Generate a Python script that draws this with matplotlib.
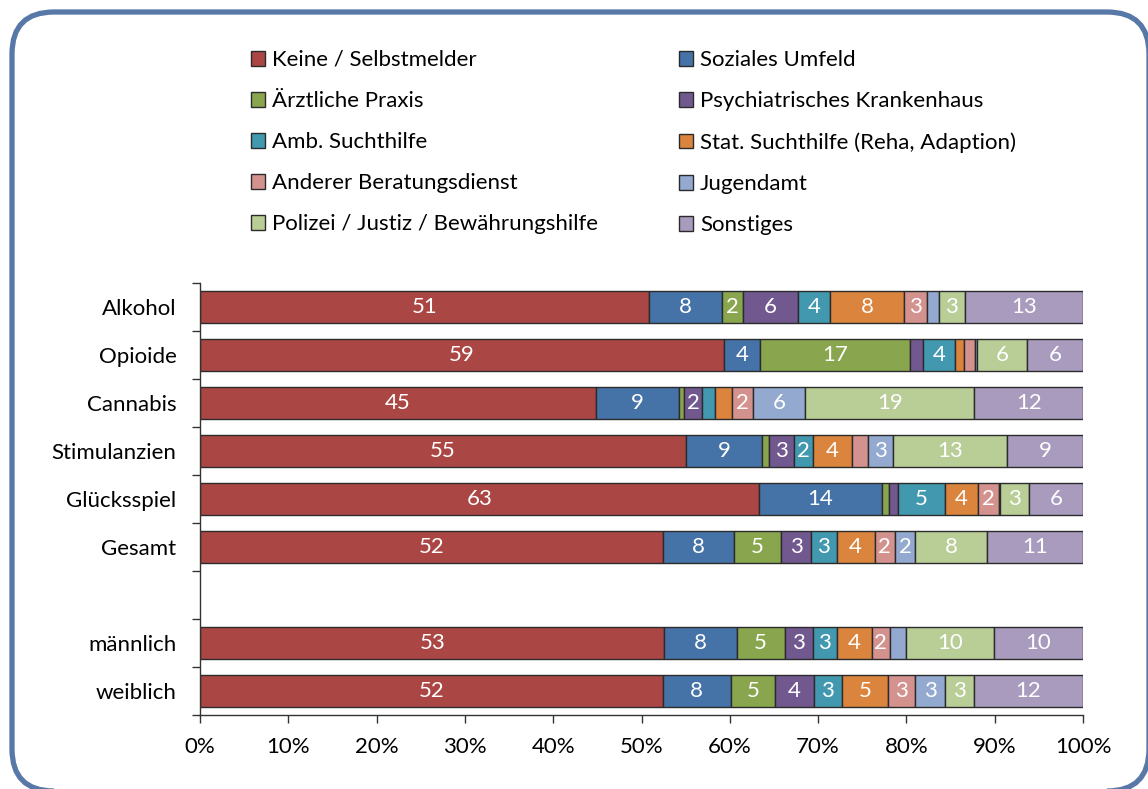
import matplotlib
matplotlib.use("Agg")
import matplotlib.pyplot as plt
import numpy as np
from matplotlib.patches import FancyBboxPatch, Patch
from matplotlib.transforms import IdentityTransform
from matplotlib.ticker import FixedLocator, PercentFormatter

plt.rcParams['font.family'] = ['Lato', 'DejaVu Sans']
FS = 16

categories = ["Alkohol", "Opioide", "Cannabis", "Stimulanzien", "Glücksspiel",
              "Gesamt", "männlich", "weiblich"]
series_names = ["Keine / Selbstmelder", "Soziales Umfeld", "Ärztliche Praxis",
                "Psychiatrisches Krankenhaus", "Amb. Suchthilfe",
                "Stat. Suchthilfe (Reha, Adaption)", "Anderer Beratungsdienst",
                "Jugendamt", "Polizei / Justiz / Bewährungshilfe", "Sonstiges"]

keine = [50.8, 59.3, 44.8, 55.0, 63.3, 52.4, 52.6, 52.4]
soziales = [8.3, 4.1, 9.4, 8.7, 13.9, 8.1, 8.2, 7.7]
aerztlich = [2.4, 17.0, 0.6, 0.7, 0.8, 5.3, 5.4, 5.0]
psych = [6.2, 1.5, 2.1, 2.9, 1.0, 3.4, 3.2, 4.4]
amb = [3.7, 3.6, 1.4, 2.1, 5.4, 2.9, 2.7, 3.2]
stat = [8.3, 1.0, 1.9, 4.4, 3.7, 4.3, 4.0, 5.2]
anderer = [2.6, 1.3, 2.4, 1.8, 2.4, 2.3, 2.0, 3.1]
jugendamt = [1.4, 0.2, 5.9, 2.9, 0.1, 2.3, 1.8, 3.4]
polizei = [2.9, 5.7, 19.2, 12.9, 3.3, 8.1, 10.0, 3.2]
sonstiges = [13.4, 6.3, 12.3, 8.6, 6.1, 10.9, 10.1, 12.4]

colors = ["#AA4643", "#4572A7", "#89A54E", "#71588F", "#4198AF",
          "#DB843D", "#D4928F", "#93A9CF", "#B9CD96", "#A99BBD"]

data = [keine, soziales, aerztlich, psych, amb, stat, anderer, jugendamt,
        polizei, sonstiges]

# empty slot between "Gesamt" and the gender rows
ypos = np.array([0, 1, 2, 3, 4, 5, 7, 8])

fig = plt.figure(figsize=(11.48, 7.89), dpi=100)
ax = fig.add_axes([200 / 1148, 1 - 715 / 789, 883 / 1148, 432 / 789])

left = np.zeros(len(categories))
for vals, col, name in zip(data, colors, series_names):
    vals = np.array(vals)
    bars = ax.barh(ypos, vals, left=left, height=0.67, color=col,
                   edgecolor="#2b2b2b", linewidth=1.0, label=name)
    labels = [f"{v:.0f}" if v >= 2 else "" for v in vals]
    ax.bar_label(bars, labels=labels, label_type="center", color="white",
                 fontsize=FS)
    left += vals

ax.set_xlim(0, 100)
ax.set_ylim(8.5, -0.5)
ax.xaxis.set_major_locator(FixedLocator(np.arange(0, 101, 10)))
ax.xaxis.set_major_formatter(PercentFormatter(decimals=0))
ax.tick_params(axis="x", direction="out", length=6, width=1, pad=10,
               labelsize=FS, color="#333333")

ax.set_yticks(np.arange(-0.5, 9, 1))
ax.set_yticklabels([])
ax.set_yticks(ypos, minor=True)
ax.set_yticklabels(categories, minor=True)
ax.tick_params(axis="y", which="major", direction="out", length=6, width=1,
               color="#333333")
ax.tick_params(axis="y", which="minor", length=0, pad=17, labelsize=FS)

for s in ["top", "right"]:
    ax.spines[s].set_visible(False)
for s in ["left", "bottom"]:
    ax.spines[s].set_color("#333333")
    ax.spines[s].set_linewidth(1)

# legend filled column-wise, so reorder to get row-wise reading
handles = [Patch(facecolor=c, edgecolor="#2b2b2b", linewidth=1) for c in colors]
order = [0, 2, 4, 6, 8, 1, 3, 5, 7, 9]
fig.legend([handles[i] for i in order], [series_names[i] for i in order],
           ncol=2, loc="upper left", bbox_to_anchor=(251 / 1148, 1 - 50 / 789),
           frameon=False, fontsize=FS, handlelength=0.65, handleheight=0.65,
           handletextpad=0.3, labelspacing=0.95, columnspacing=3.63,
           borderpad=0, borderaxespad=0)

frame = FancyBboxPatch((12, -2), 1137, 779, boxstyle="round,pad=0,rounding_size=42",
                       transform=IdentityTransform(), facecolor="none",
                       edgecolor="#5878A8", linewidth=3.8, clip_on=False)
fig.patches.append(frame)

fig.savefig("out.png", dpi=100)
